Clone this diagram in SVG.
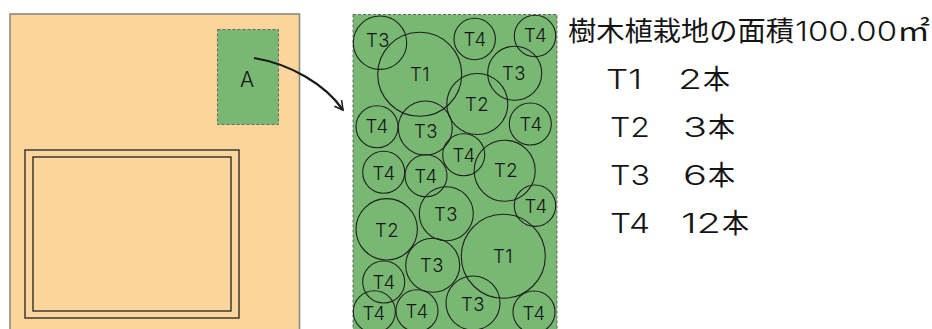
<svg xmlns="http://www.w3.org/2000/svg" width="932" height="329" viewBox="0 0 932 329">
<style>
text{font-family:"Inter","Noto Sans CJK JP",sans-serif;fill:#141414;font-weight:300}
.j{font-family:"Noto Sans CJK JP",sans-serif;font-weight:400}
.t{font-size:18.500px;text-anchor:middle;dominant-baseline:central;letter-spacing:.5px}
.a{font-size:21px;text-anchor:middle;dominant-baseline:central}
.b{font-size:27px}
.c{fill:none;stroke:#1f1f1f;stroke-width:1.100}
.g{fill:#78b873;stroke:#666;stroke-width:1;stroke-dasharray:3 2}
.w{fill:none;stroke:#2e2e2e;stroke-width:1.400}
</style>
<defs><marker id="ah" markerWidth="14" markerHeight="14" refX="10" refY="6" orient="auto" markerUnits="userSpaceOnUse"><path d="M1 1.500L10 6L2 11" fill="none" stroke="#1a1a1a" stroke-width="1.500"/></marker></defs>
<g id="site">
<rect x="10" y="14" width="289.500" height="325" fill="#fbd59b" stroke="#8a8a80" stroke-width="1.600"/>
<rect class="w" x="25" y="150" width="214" height="168"/>
<rect class="w" x="33" y="157" width="198" height="154"/>
</g>
<g id="area-a">
<rect class="g" x="217.500" y="29.500" width="61" height="95"/>
<text class="a" x="247" y="79">A</text>
</g>
<g id="planting">
<rect class="g" x="353" y="14.500" width="204" height="325"/>
<g id="t3-1"><circle class="c" cx="380" cy="42.700" r="26.700"/><text class="t" x="378" y="40">T3</text></g>
<g id="t1-1"><circle class="c" cx="419.700" cy="74.300" r="42"/><text class="t" x="420" y="74">T1</text></g>
<g id="t4-1"><circle class="c" cx="474.700" cy="39" r="20.700"/><text class="t" x="475" y="38.500">T4</text></g>
<g id="t4-2"><circle class="c" cx="535" cy="36" r="20.700"/><text class="t" x="535.500" y="35">T4</text></g>
<g id="t3-2"><circle class="c" cx="514.700" cy="73.300" r="27"/><text class="t" x="514" y="73">T3</text></g>
<g id="t2-1"><circle class="c" cx="477.300" cy="104" r="30.500"/><text class="t" x="477" y="104">T2</text></g>
<g id="t4-3"><circle class="c" cx="377" cy="126.700" r="21"/><text class="t" x="377" y="125.500">T4</text></g>
<g id="t3-3"><circle class="c" cx="425.300" cy="128" r="27"/><text class="t" x="426" y="131">T3</text></g>
<g id="t4-4"><circle class="c" cx="530.300" cy="124" r="21"/><text class="t" x="531" y="124">T4</text></g>
<g id="t4-5"><circle class="c" cx="463.700" cy="154.700" r="21"/><text class="t" x="464" y="155">T4</text></g>
<g id="t4-6"><circle class="c" cx="383.700" cy="172.300" r="21"/><text class="t" x="384" y="172.500">T4</text></g>
<g id="t4-7"><circle class="c" cx="426" cy="175.700" r="21"/><text class="t" x="426" y="175.500">T4</text></g>
<g id="t2-2"><circle class="c" cx="504.700" cy="170.700" r="30.500"/><text class="t" x="506" y="170">T2</text></g>
<g id="t4-8"><circle class="c" cx="535" cy="205.700" r="20.700"/><text class="t" x="536" y="205.500">T4</text></g>
<g id="t3-4"><circle class="c" cx="446.300" cy="213.700" r="27"/><text class="t" x="446" y="214">T3</text></g>
<g id="t2-3"><circle class="c" cx="386.700" cy="229.300" r="30.700"/><text class="t" x="387" y="230">T2</text></g>
<g id="t3-5"><circle class="c" cx="432.700" cy="265.300" r="27"/><text class="t" x="432" y="265">T3</text></g>
<g id="t1-2"><circle class="c" cx="503.300" cy="256.300" r="42"/><text class="t" x="503" y="256">T1</text></g>
<g id="t4-9"><circle class="c" cx="383.700" cy="282" r="21"/><text class="t" x="384" y="281.500">T4</text></g>
<g id="t4-10"><circle class="c" cx="374.300" cy="311.700" r="21"/><text class="t" x="374" y="313">T4</text></g>
<g id="t4-11"><circle class="c" cx="417" cy="310.700" r="21"/><text class="t" x="417" y="310.500">T4</text></g>
<g id="t3-6"><circle class="c" cx="473" cy="303" r="27"/><text class="t" x="473" y="304">T3</text></g>
<g id="t4-12"><circle class="c" cx="534" cy="312" r="21"/><text class="t" x="534" y="312.500">T4</text></g>
</g>
<g id="connectors">
<path d="M254 58C290 64 325 84 343 110" fill="none" stroke="#1a1a1a" stroke-width="2.200" marker-end="url(#ah)"/>
</g>
<g id="legend">
<text class="b j" x="568" y="41" textLength="226" lengthAdjust="spacingAndGlyphs">樹木植栽地の面積</text>
<text class="b" x="795" y="41" textLength="102" lengthAdjust="spacingAndGlyphs">100.00</text>
<text class="b j" x="897" y="41" textLength="33" lengthAdjust="spacingAndGlyphs">㎡</text>
<text class="b" x="606" y="89" textLength="36" lengthAdjust="spacingAndGlyphs">T1</text><text class="b" x="678" y="89" textLength="24" lengthAdjust="spacingAndGlyphs">2</text><text class="b j" x="703" y="89">本</text>
<text class="b" x="610" y="137" textLength="40" lengthAdjust="spacingAndGlyphs">T2</text><text class="b" x="683" y="137" textLength="24" lengthAdjust="spacingAndGlyphs">3</text><text class="b j" x="708" y="137">本</text>
<text class="b" x="610" y="185" textLength="40" lengthAdjust="spacingAndGlyphs">T3</text><text class="b" x="683" y="185" textLength="24" lengthAdjust="spacingAndGlyphs">6</text><text class="b j" x="708" y="185">本</text>
<text class="b" x="610" y="233" textLength="40" lengthAdjust="spacingAndGlyphs">T4</text><text class="b" x="681" y="233" textLength="40" lengthAdjust="spacingAndGlyphs">12</text><text class="b j" x="722" y="233">本</text>
</g>
</svg>
